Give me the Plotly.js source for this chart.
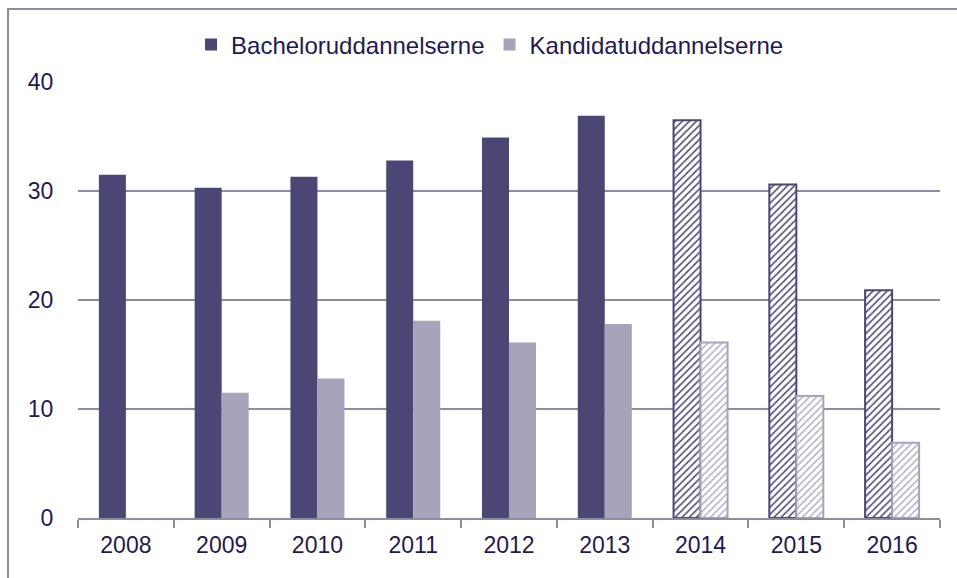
<!DOCTYPE html>
<html>
<head>
<meta charset="utf-8">
<script src="https://cdn.plot.ly/plotly-3.0.1.min.js"></script>
<style>html,body{margin:0;padding:0;background:#fff;}#chart{width:957px;height:578px;}</style>
</head>
<body>
<div id="chart"></div>
<script>
var years = ['2008','2009','2010','2011','2012','2013','2014','2015','2016'];
var bachelor = [31.5, 30.3, 31.3, 32.8, 34.9, 36.9, 36.5, 30.6, 20.9];
var kandidat = [null, 11.5, 12.8, 18.1, 16.1, 17.8, 16.1, 11.2, 6.9];
var hatched = [false, false, false, false, false, false, true, true, true];
var seriesNames = ['Bacheloruddannelserne', 'Kandidatuddannelserne'];

var dark = '#4B4775';
var light = '#A7A3BA';
var textColor = '#1F1952';
var gridColor = '#8F8CA2';

function mk(vals, color, hatchColor, name) {
  return {
    type: 'bar', x: years, y: vals, name: name,
    marker: {
      color: color,
      line: { color: color, width: hatched.map(function(h){ return h ? 2 : 0; }) },
      pattern: {
        shape: hatched.map(function(h){ return h ? '/' : ''; }),
        fgcolor: hatchColor, bgcolor: '#ffffff', size: 5, solidity: 0.3, fillmode: 'replace'
      }
    },
    hoverinfo: 'x+y'
  };
}

var data = [mk(bachelor, dark, dark, seriesNames[0]), mk(kandidat, light, '#B3AFC4', seriesNames[1])];

var L = 78, R = 17, T = 82, B = 60, W = 957, H = 578;
var pw = W - L - R, ph = H - T - B;
function px(x){ return (x - L) / pw; }
function py(y){ return 1 - (y - T) / ph; }

var fs = 23;
var layout = {
  width: W, height: H,
  margin: { l: L, r: R, t: T, b: B, pad: 0 },
  paper_bgcolor: '#ffffff', plot_bgcolor: '#ffffff',
  font: { family: 'Liberation Sans, Arial, sans-serif', size: fs, color: textColor },
  barmode: 'group', bargap: 0.436, bargroupgap: 0,
  showlegend: true,
  legend: {
    orientation: 'h', x: 0.478, xanchor: 'center', y: py(45), yanchor: 'middle',
    font: { size: 24, color: textColor }, itemclick: false, traceorder: 'normal',
    itemwidth: 30
  },
  xaxis: {
    type: 'category', tickson: 'boundaries', ticks: 'outside', ticklen: 8, tickwidth: 2,
    tickcolor: gridColor, showline: true, linecolor: gridColor, linewidth: 2,
    showgrid: false, zeroline: false, tickfont: { size: fs, color: textColor },
    ticklabelstandoff: 5, fixedrange: true
  },
  yaxis: {
    range: [0, 40], tickvals: [0, 10, 20, 30, 40], ticks: 'outside', ticklen: 19,
    tickcolor: 'rgba(0,0,0,0)', showgrid: true, gridcolor: gridColor, gridwidth: 2,
    zeroline: false, showline: false, tickfont: { size: fs, color: textColor }, fixedrange: true
  },
  shapes: [{
    type: 'rect', xref: 'paper', yref: 'paper',
    x0: px(8), x1: px(970), y0: py(590), y1: py(9),
    line: { color: gridColor, width: 2 }, fillcolor: 'rgba(0,0,0,0)', layer: 'below'
  }]
};

Plotly.newPlot('chart', data, layout, { displayModeBar: false, staticPlot: true });
</script>
</body>
</html>
